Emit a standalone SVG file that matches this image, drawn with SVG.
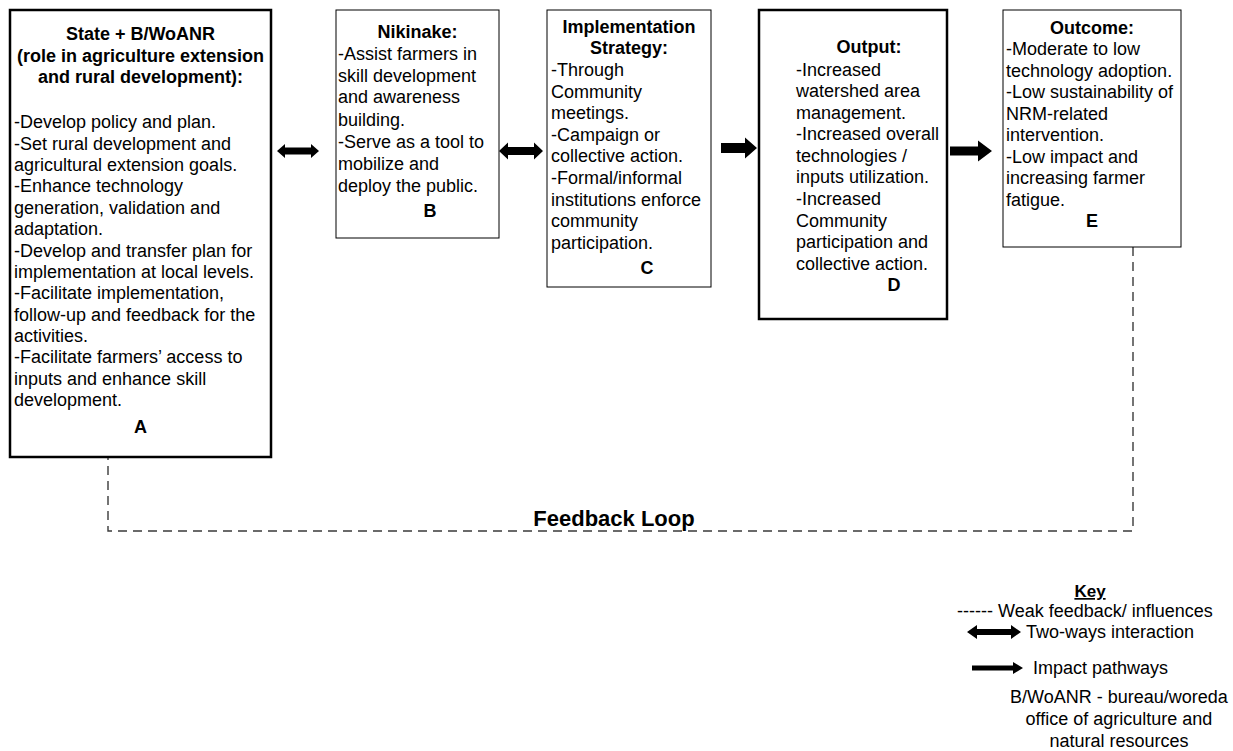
<svg xmlns="http://www.w3.org/2000/svg" width="1233" height="751" viewBox="0 0 1233 751">
  <style>
    .box { fill: #ffffff; stroke: #000000; stroke-width: 1; }
    .heavy { stroke-width: 2.5; }
    text { font-family: "Liberation Sans", Arial, sans-serif; font-size: 18px; fill: #000000; }
    .b { font-weight: bold; }
    .c { text-anchor: middle; }
    .arrow { fill: #000000; stroke: none; }
    .weak { fill: none; stroke: #3a3a3a; stroke-width: 1.4; stroke-dasharray: 9 6; }
  </style>
  <rect width="1233" height="751" fill="#ffffff"/>

  <!-- connectors -->
  <g id="connectors">
    <!-- A <-> B -->
    <polygon class="arrow" points="277,151 285,144 285,147.5 311,147.5 311,144 319,151 311,158 311,154.5 285,154.5 285,158"/>
    <!-- B <-> C -->
    <polygon class="arrow" points="499,151 508,142.5 508,147 534,147 534,142.5 543,151 534,159.5 534,155 508,155 508,159.5"/>
    <!-- C -> D -->
    <polygon class="arrow" points="721,143 745,143 745,137.5 757,148 745,158.5 745,153 721,153"/>
    <!-- D -> E -->
    <polygon class="arrow" points="950,146.5 978,146.5 978,140.5 992,151 978,161.5 978,155.5 950,155.5"/>
    <!-- feedback loop from E back to A -->
    <path class="weak" d="M1133,247 V531 H108 V457"/>
    <text class="b c" x="614" y="526" style="font-size:22px">Feedback Loop</text>
  </g>

  <!-- A: State + B/WoANR -->
  <g id="node-a">
    <rect class="box heavy" x="10" y="10" width="261" height="447"/>
    <text class="b c" x="140.5" y="40">State + B/WoANR</text>
    <text class="b c" x="140.5" y="62">(role in agriculture extension</text>
    <text class="b c" x="140.5" y="83">and rural development):</text>
    <text x="14" y="128">-Develop policy and plan.</text>
    <text x="14" y="149.5">-Set rural development and</text>
    <text x="14" y="171">agricultural extension goals.</text>
    <text x="14" y="192">-Enhance technology</text>
    <text x="14" y="213.5">generation, validation and</text>
    <text x="14" y="235">adaptation.</text>
    <text x="14" y="256.5">-Develop and transfer plan for</text>
    <text x="14" y="278">implementation at local levels.</text>
    <text x="14" y="299">-Facilitate implementation,</text>
    <text x="14" y="320.5">follow-up and feedback for the</text>
    <text x="14" y="342">activities.</text>
    <text x="14" y="363">-Facilitate farmers’ access to</text>
    <text x="14" y="384.5">inputs and enhance skill</text>
    <text x="14" y="406">development.</text>
    <text class="b c" x="140.5" y="433">A</text>
  </g>

  <!-- B: Nikinake -->
  <g id="node-b">
    <rect class="box" x="336" y="10" width="163" height="228"/>
    <text class="b c" x="417.5" y="38">Nikinake:</text>
    <text x="338" y="60">-Assist farmers in</text>
    <text x="338" y="82">skill development</text>
    <text x="338" y="103">and awareness</text>
    <text x="338" y="126">building.</text>
    <text x="338" y="148">-Serve as a tool to</text>
    <text x="338" y="170">mobilize and</text>
    <text x="338" y="192">deploy the public.</text>
    <text class="b c" x="430" y="217">B</text>
  </g>

  <!-- C: Implementation Strategy -->
  <g id="node-c">
    <rect class="box" x="547" y="10" width="164" height="277"/>
    <text class="b c" x="629" y="33">Implementation</text>
    <text class="b c" x="629" y="54">Strategy:</text>
    <text x="551" y="76">-Through</text>
    <text x="551" y="97.5">Community</text>
    <text x="551" y="119">meetings.</text>
    <text x="551" y="140.5">-Campaign or</text>
    <text x="551" y="162">collective action.</text>
    <text x="551" y="184">-Formal/informal</text>
    <text x="551" y="205.5">institutions enforce</text>
    <text x="551" y="227">community</text>
    <text x="551" y="248.5">participation.</text>
    <text class="b c" x="647" y="274">C</text>
  </g>

  <!-- D: Output -->
  <g id="node-d">
    <rect class="box heavy" x="759" y="10" width="188" height="309"/>
    <text class="b c" x="869" y="53">Output:</text>
    <text x="796" y="75.5">-Increased</text>
    <text x="796" y="97">watershed area</text>
    <text x="796" y="118.5">management.</text>
    <text x="796" y="140">-Increased overall</text>
    <text x="796" y="161.5">technologies /</text>
    <text x="796" y="183">inputs utilization.</text>
    <text x="796" y="205">-Increased</text>
    <text x="796" y="226.5">Community</text>
    <text x="796" y="248">participation and</text>
    <text x="796" y="269.5">collective action.</text>
    <text class="b c" x="894" y="291">D</text>
  </g>

  <!-- E: Outcome -->
  <g id="node-e">
    <rect class="box" x="1003" y="10" width="178" height="237"/>
    <text class="b c" x="1092" y="34">Outcome:</text>
    <text x="1006" y="55">-Moderate to low</text>
    <text x="1006" y="76.5">technology adoption.</text>
    <text x="1006" y="98">-Low sustainability of</text>
    <text x="1006" y="119.5">NRM-related</text>
    <text x="1006" y="141">intervention.</text>
    <text x="1006" y="162.5">-Low impact and</text>
    <text x="1006" y="184">increasing farmer</text>
    <text x="1006" y="205.5">fatigue.</text>
    <text class="b c" x="1092" y="227">E</text>
  </g>

  <!-- legend -->
  <g id="key">
    <text class="b c" x="1090" y="597" style="font-size:17px;text-decoration:underline">Key</text>
    <text x="957" y="617">------ Weak feedback/ influences</text>
    <polygon class="arrow" points="967,632 977,625 977,629 1011,629 1011,625 1021,632 1011,639 1011,635 977,635 977,639"/>
    <text x="1026" y="638">Two-ways interaction</text>
    <polygon class="arrow" points="972,665.5 1013,665.5 1013,662 1023,668 1013,674 1013,670.5 972,670.5"/>
    <text x="1033" y="674">Impact pathways</text>
    <text class="c" x="1119" y="703">B/WoANR - bureau/woreda</text>
    <text class="c" x="1119" y="725">office of agriculture and</text>
    <text class="c" x="1119" y="747">natural resources</text>
  </g>
</svg>
